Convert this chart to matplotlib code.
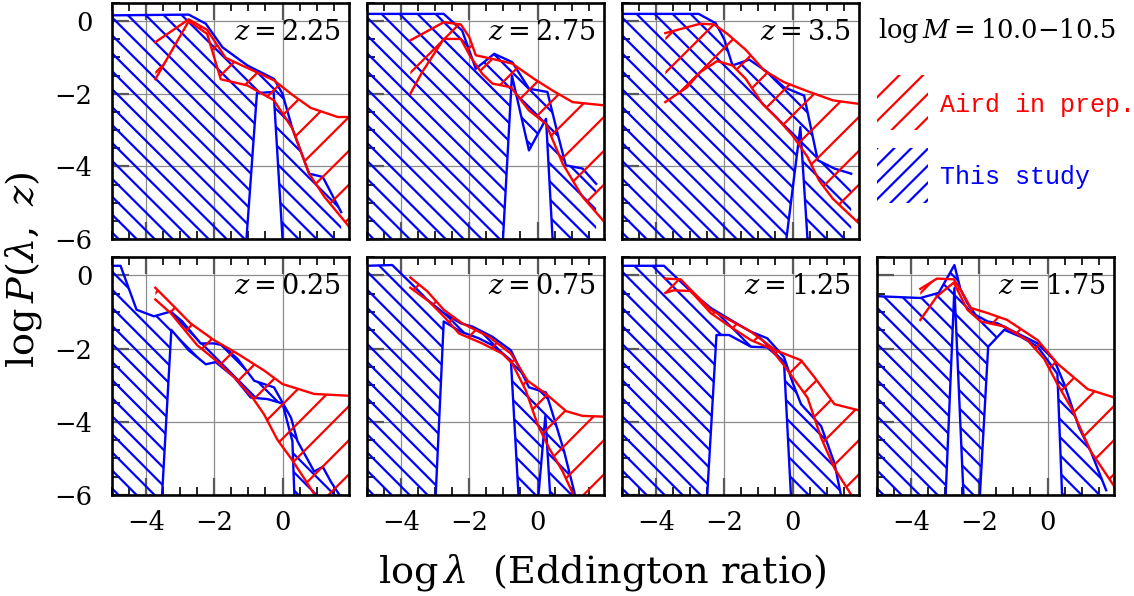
import numpy as np
import matplotlib.pyplot as plt
from matplotlib.collections import LineCollection
from matplotlib.ticker import MultipleLocator

plt.rcParams['font.family'] = 'DejaVu Serif'
plt.rcParams['mathtext.fontset'] = 'dejavuserif'

BLUE = '#0000ff'
RED = '#ff0000'

# ---- z = 2.25 ----
b225_hi_x = [-5.0, -2.75, -2.25, -1.76, -1.03, -0.25, 0.0, 0.29, 0.78, 1.18, 1.72]
b225_hi_y = [0.16, 0.18, -0.07, -0.72, -1.22, -1.59, -2.0, -2.96, -4.2, -4.29, -5.26]
b225_lo_x = [-5.0, -1.08, -0.75, -0.26, 0.02, 1.72]
b225_lo_y = [-6.3, -6.3, -1.98, -1.95, -6.3, -6.3]
r225_hi_x = [-3.73, -2.75, -2.21, -1.67, -0.98, -0.25, 0.29, 0.83, 1.62, 1.96]
r225_hi_y = [-0.58, 0.05, -0.24, -1.01, -1.31, -1.63, -2.03, -2.39, -2.64, -2.64]
r225_lo_x = [-3.73, -2.75, -2.21, -1.81, -1.03, -0.69, -0.25, 0.29, 0.78, 1.23, 1.96]
r225_lo_y = [-1.6, 0.0, -0.35, -1.6, -1.77, -1.95, -2.18, -2.96, -4.2, -4.84, -5.67]

# ---- z = 2.75 ----
b275_hi_x = [-5.0, -2.75, -2.21, -1.81, -1.27, -0.74, -0.25, 0.29, 0.59, 0.83, 1.32, 1.72]
b275_hi_y = [0.2, 0.2, -0.26, -1.31, -0.9, -1.13, -1.86, -1.95, -3.1, -3.97, -4.06, -4.48]
b275_lo_x = [-5.0, -1.03, -0.75, -0.25, 0.25, 0.46, 1.72]
b275_lo_y = [-6.3, -6.3, -1.5, -3.56, -2.69, -6.3, -6.3]
r275_hi_x = [-3.73, -2.75, -2.25, -2.0, -1.81, -1.32, -0.74, -0.1, 0.44, 1.03, 1.96]
r275_hi_y = [-0.53, -0.03, -0.09, -0.44, -0.94, -1.04, -1.17, -1.59, -1.91, -2.23, -2.32]
r275_lo_x = [-3.73, -3.38, -2.75, -2.25, -1.96, -1.62, -1.32, -0.78, -0.25, 0.25, 0.74, 1.32, 1.96]
r275_lo_y = [-2.0, -1.4, -0.49, -0.49, -0.99, -1.45, -1.72, -1.82, -2.46, -2.83, -3.93, -4.84, -5.53]

# ---- z = 3.5 ----
b35_hi_x = [-5.0, -2.75, -2.25, -2.0, -1.76, -1.27, -0.74, -0.25, 0.34, 0.74, 1.23, 1.72]
b35_hi_y = [0.2, 0.2, -0.06, -0.5, -1.22, -1.06, -1.4, -1.82, -2.05, -3.83, -4.06, -4.2]
b35_lo_x = [-5.0, -0.22, 0.23, 0.46, 1.72]
b35_lo_y = [-6.3, -6.3, -2.92, -6.3, -6.3]
r35_hi_x = [-3.73, -2.7, -2.3, -1.91, -1.37, -0.83, -0.25, 0.44, 1.18, 1.96]
r35_hi_y = [-0.33, -0.07, -0.09, -0.35, -0.79, -1.36, -1.68, -1.93, -2.18, -2.28]
r35_lo_x = [-3.73, -3.09, -2.7, -2.21, -1.76, -1.37, -0.88, -0.44, 0.0, 0.44, 0.78, 1.18, 1.96]
r35_lo_y = [-2.23, -1.82, -1.4, -1.1, -1.22, -1.59, -2.28, -2.69, -3.15, -3.74, -4.39, -4.89, -5.58]

# ---- z = 0.25 ----
b025_hi_x = [-5.0, -4.75, -4.28, -3.77, -3.28, -2.94, -2.4, -2.01, -1.76, -1.32, -0.83, -0.25, 0.25, 0.44, 0.93, 1.18, 1.42, 1.67]
b025_hi_y = [0.26, 0.26, -0.94, -1.12, -0.99, -1.26, -1.86, -1.86, -1.91, -2.28, -2.88, -3.06, -3.89, -4.53, -5.36, -5.23, -5.64, -6.0]
b025_lo_x = [-5.0, -3.55, -3.26, -2.75, -2.25, -1.96, -1.42, -0.93, -0.44, 0.0, 0.29, 0.36, 1.67]
b025_lo_y = [-6.3, -6.3, -1.49, -2.05, -2.43, -2.37, -2.78, -3.34, -3.38, -3.5, -4.53, -6.3, -6.3]
r025_hi_x = [-3.73, -3.28, -2.7, -2.01, -1.32, -0.54, 0.0, 0.93, 1.96]
r025_hi_y = [-0.34, -0.76, -1.31, -1.77, -2.14, -2.6, -2.97, -3.24, -3.29]
r025_lo_x = [-3.73, -3.28, -2.5, -1.96, -1.42, -0.88, -0.54, -0.15, 0.25, 0.64, 0.98, 1.96]
r025_lo_y = [-0.66, -1.03, -1.91, -2.32, -2.78, -3.34, -3.8, -4.49, -5.0, -5.55, -6.05, -7.2]

# ---- z = 0.75 ----
b075_hi_x = [-5.0, -4.26, -3.73, -3.24, -2.75, -2.25, -1.91, -1.32, -0.78, -0.25, 0.25, 0.54, 0.78, 1.08, 1.15]
b075_hi_y = [0.26, 0.28, -0.2, -0.66, -1.03, -1.31, -1.4, -1.68, -2.05, -3.06, -3.2, -4.07, -4.81, -5.92, -6.3]
b075_lo_x = [-5.0, -3.0, -2.75, -2.25, -1.72, -1.32, -0.78, -0.54, 0.0, 0.23, 0.39, 1.15]
b075_lo_y = [-6.3, -6.3, -1.26, -1.54, -1.72, -1.91, -2.32, -6.3, -6.3, -3.84, -6.3, -6.3]
r075_hi_x = [-3.73, -3.24, -2.75, -2.21, -1.42, -0.78, -0.29, 0.25, 0.84, 1.32, 1.96]
r075_hi_y = [-0.06, -0.43, -0.94, -1.31, -1.68, -2.14, -2.88, -3.24, -3.71, -3.84, -3.86]
r075_lo_x = [-3.73, -3.19, -2.75, -2.3, -1.62, -1.03, -0.74, -0.34, 0.0, 0.34, 0.74, 1.08, 1.96]
r075_lo_y = [-0.34, -0.71, -1.12, -1.59, -1.86, -2.14, -2.41, -3.15, -4.07, -4.72, -5.36, -6.05, -7.2]

# ---- z = 1.25 ----
b125_hi_x = [-5.0, -3.77, -2.99, -2.4, -1.81, -1.22, -0.74, -0.25, 0.0, 0.25, 0.84, 1.23, 1.42]
b125_hi_y = [0.26, 0.26, -0.43, -0.89, -1.22, -1.54, -1.72, -2.23, -2.92, -3.52, -4.12, -5.13, -6.0]
b125_lo_x = [-5.0, -2.52, -2.23, -1.86, -1.22, -0.74, -0.25, -0.03, 1.45]
b125_lo_y = [-6.3, -6.3, -1.63, -1.63, -1.95, -1.97, -2.36, -6.3, -6.3]
r125_hi_x = [-3.73, -3.28, -2.99, -2.4, -1.81, -1.22, -0.49, 0.25, 0.64, 1.23, 1.96]
r125_hi_y = [-0.09, -0.11, -0.39, -0.94, -1.24, -1.54, -2.05, -2.32, -2.78, -3.52, -3.69]
r125_lo_x = [-3.73, -3.48, -2.99, -2.4, -1.91, -1.22, -0.64, -0.25, 0.44, 0.84, 1.23, 1.76, 1.96]
r125_lo_y = [-0.48, -0.41, -0.43, -1.03, -1.35, -1.77, -2.0, -2.46, -3.34, -4.44, -5.27, -6.05, -6.3]

# ---- z = 1.75 ----
b175_hi_x = [-5.0, -3.73, -3.19, -2.73, -2.55, -2.35, -2.11, -1.76, -1.47, -0.98, -0.29, 0.2, 0.49, 0.93, 1.27, 1.72]
b175_hi_y = [-0.57, -0.62, -0.48, 0.28, -0.39, -0.76, -1.08, -1.26, -1.31, -1.54, -1.86, -2.32, -2.97, -4.17, -4.81, -5.87]
b175_lo_x = [-5.0, -3.0, -2.73, -2.45, -2.0, -1.74, -1.27, -0.78, -0.29, 0.29, 0.44, 1.75]
b175_lo_y = [-6.3, -6.3, -0.35, -6.3, -6.3, -1.95, -1.49, -1.68, -1.95, -2.69, -6.3, -6.3]
r175_hi_x = [-3.73, -3.24, -2.75, -2.55, -2.25, -1.76, -1.18, -0.29, 0.29, 1.18, 1.97]
r175_hi_y = [-0.37, -0.09, -0.11, -0.39, -0.89, -1.03, -1.22, -1.77, -2.41, -3.11, -3.34]
r175_lo_x = [-3.73, -3.24, -2.75, -2.35, -1.96, -1.27, -0.59, -0.1, 0.29, 0.69, 1.27, 1.97]
r175_lo_y = [-1.22, -0.57, -0.2, -0.94, -1.26, -1.4, -1.77, -2.28, -2.97, -3.61, -4.81, -5.78]

panels = [
    ('2.25', 0, 0, (b225_hi_x, b225_hi_y, b225_lo_x, b225_lo_y), (r225_hi_x, r225_hi_y, r225_lo_x, r225_lo_y)),
    ('2.75', 0, 1, (b275_hi_x, b275_hi_y, b275_lo_x, b275_lo_y), (r275_hi_x, r275_hi_y, r275_lo_x, r275_lo_y)),
    ('3.5', 0, 2, (b35_hi_x, b35_hi_y, b35_lo_x, b35_lo_y), (r35_hi_x, r35_hi_y, r35_lo_x, r35_lo_y)),
    ('0.25', 1, 0, (b025_hi_x, b025_hi_y, b025_lo_x, b025_lo_y), (r025_hi_x, r025_hi_y, r025_lo_x, r025_lo_y)),
    ('0.75', 1, 1, (b075_hi_x, b075_hi_y, b075_lo_x, b075_lo_y), (r075_hi_x, r075_hi_y, r075_lo_x, r075_lo_y)),
    ('1.25', 1, 2, (b125_hi_x, b125_hi_y, b125_lo_x, b125_lo_y), (r125_hi_x, r125_hi_y, r125_lo_x, r125_lo_y)),
    ('1.75', 1, 3, (b175_hi_x, b175_hi_y, b175_lo_x, b175_lo_y), (r175_hi_x, r175_hi_y, r175_lo_x, r175_lo_y)),
]


def hatch(ax, xs, ys, color, step, down, lw=1.6):
    # diagonal lines in axes space, clipped to the polygon (xs, ys)
    poly = ax.fill(xs, ys, facecolor='none', edgecolor='none', lw=0)[0]
    if down:
        cs = np.arange(-0.2, 2.2, step)
        segs = [[(-0.1, c + 0.1), (1.1, c - 1.1)] for c in cs]
    else:
        cs = np.arange(-1.2, 1.2, step)
        segs = [[(-0.1, c - 0.1), (1.1, c + 1.1)] for c in cs]
    lc = LineCollection(segs, colors=color, linewidths=lw, transform=ax.transAxes)
    ax.add_collection(lc, autolim=False)
    lc.set_clip_path(poly)


def band(ax, hx, hy, lx, ly, color, step, down):
    xs = list(hx) + list(lx)[::-1]
    ys = list(hy) + list(ly)[::-1]
    hatch(ax, xs, ys, color, step, down)
    ax.plot(hx, hy, color=color, lw=1.7)
    ax.plot(lx, ly, color=color, lw=1.7)


fig = plt.figure(figsize=(11.34, 5.96), dpi=100)
W, H = 1134, 596
lefts = [112, 367, 622, 877]
rows = [(3, 239), (257, 495)]

for ztxt, r, c, blue, red in panels:
    top, bot = rows[r]
    ax = fig.add_axes([lefts[c] / W, (H - bot) / H, 237 / W, (bot - top) / H])
    band(ax, *blue, BLUE, 18 / 237, True)
    band(ax, *red, RED, 34 / 237, False)
    ax.set_xlim(-5, 1.95)
    ax.set_ylim(-6, 0.5)
    ax.set_xticks([-4, -2, 0])
    ax.set_yticks([0, -2, -4, -6])
    ax.xaxis.set_minor_locator(MultipleLocator(0.5))
    ax.yaxis.set_minor_locator(MultipleLocator(0.5))
    ax.grid(True, which='major', color='0.55', lw=0.9)
    ax.set_axisbelow(True)
    ax.tick_params(which='both', direction='in', top=True, right=False,
                   labelsize=18.5, labelbottom=(r == 1), labelleft=(c == 0))
    ax.tick_params(axis='x', which='major', pad=11)
    ax.tick_params(axis='y', which='major', pad=14)
    ax.tick_params(which='major', length=12, width=1.6, color='0.35')
    ax.tick_params(which='minor', length=6, width=1.2, color='k')
    for s in ax.spines.values():
        s.set_linewidth(1.9)
    ax.text(0.965, 0.875, r'$z=%s$' % ztxt, transform=ax.transAxes,
            ha='right', va='center', fontsize=19.5, zorder=5)

# legend area
lax = fig.add_axes([877 / W, (H - 239) / H, 237 / W, 236 / H])
lax.set_xlim(0, 1)
lax.set_ylim(0, 1)
lax.axis('off')
hatch(lax, [0, 0.214, 0.214, 0], [0.462, 0.462, 0.695, 0.695], RED, 0.10, False)
hatch(lax, [0, 0.214, 0.214, 0], [0.153, 0.153, 0.386, 0.386], BLUE, 0.072, False)
lax.text(0.004, 0.852, r'$\log M=10.0{-}10.5$', fontsize=18.5, va='baseline', ha='left')
lax.text(0.266, 0.568, 'Aird in prep.', color=RED, family='Liberation Mono',
         fontsize=18, va='center', ha='left')
lax.text(0.266, 0.263, 'This study', color=BLUE, family='Liberation Mono',
         fontsize=18, va='center', ha='left')

fig.text(0.531, 0.040, r'$\log\lambda$  (Eddington ratio)', ha='center', va='center', fontsize=27.5)
fig.text(0.021, 0.548, r'$\log P(\lambda,\ z)$', rotation=90, ha='center', va='center', fontsize=27.5)

fig.savefig('out.png', dpi=100)
